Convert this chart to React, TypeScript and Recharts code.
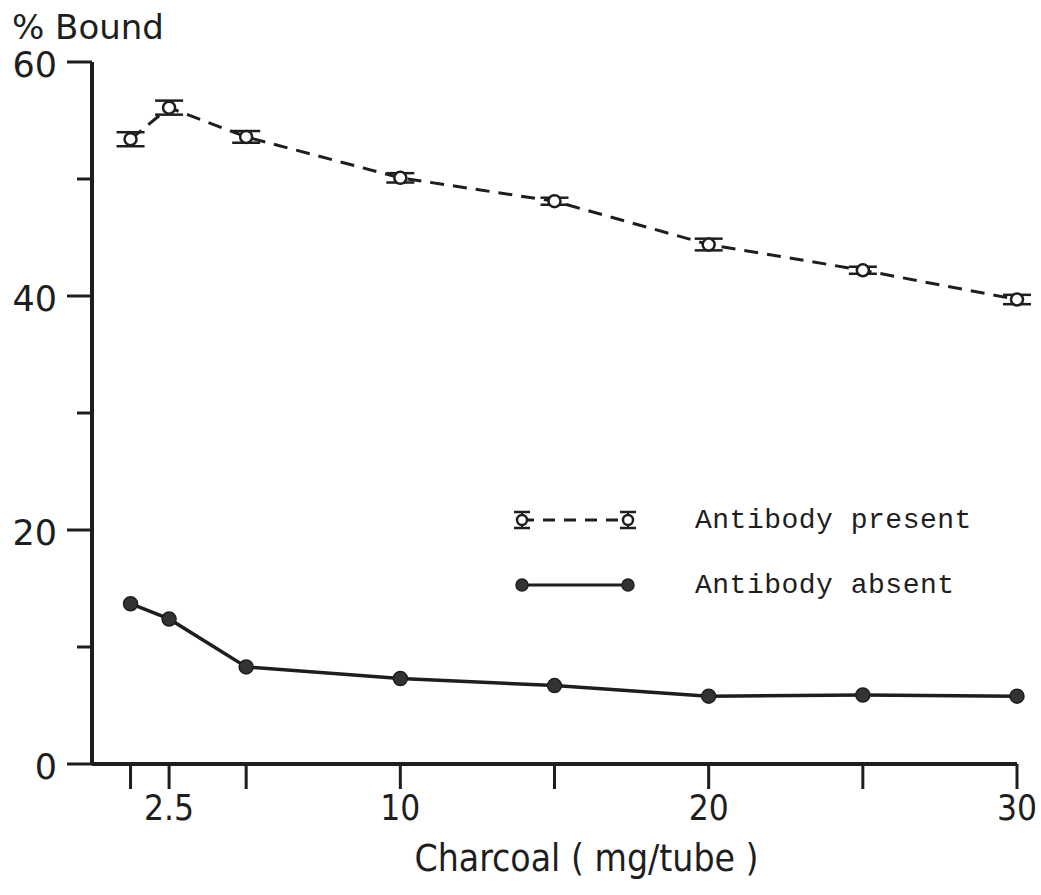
import React from "react";
import { LineChart, Line, XAxis, YAxis, ErrorBar } from "recharts";

// charcoal amount (mg/tube)
const charcoal = [1.25, 2.5, 5, 10, 15, 20, 25, 30];
// % bound, antibody present
const presentValues = [53.4, 56.1, 53.6, 50.1, 48.1, 44.4, 42.2, 39.7];
const presentErrors = [0.6, 0.6, 0.5, 0.4, 0.3, 0.5, 0.3, 0.4];
// % bound, antibody absent
const absentValues = [13.7, 12.4, 8.3, 7.3, 6.7, 5.8, 5.9, 5.8];

const xTicks = [1.25, 2.5, 5, 10, 15, 20, 25, 30];
const xTickLabels = [2.5, 10, 20, 30];
const yTicks = [0, 10, 20, 30, 40, 50, 60];
const yTickLabels = [0, 20, 40, 60];

const data = charcoal.map((x, i) => ({
  x,
  present: presentValues[i],
  presentErr: presentErrors[i],
  absent: absentValues[i],
}));

const INK = "#1e1e1e";
const AXIS_FONT = "'DejaVu Sans', 'Noto Sans', sans-serif";
const NARROW_FONT = "'DejaVu Sans Condensed', 'Liberation Sans Narrow', 'Roboto', sans-serif";
const MONO_FONT = "'Liberation Mono', 'DejaVu Sans Mono', monospace";

const XTick: React.FC<any> = ({ x, y, payload }) => {
  const labelled = xTickLabels.includes(payload.value);
  return (
    <g>
      <line x1={x} y1={y} x2={x} y2={y + 25} stroke={INK} strokeWidth={3} />
      {labelled && (
        <text
          x={x}
          y={y + 56}
          textAnchor="middle"
          fill={INK}
          fontSize={35}
          fontFamily={NARROW_FONT}
        >
          {payload.value}
        </text>
      )}
    </g>
  );
};

const YTick: React.FC<any> = ({ x, y, payload }) => {
  const labelled = yTickLabels.includes(payload.value);
  return (
    <g>
      <line
        x1={x - (labelled ? 25 : 15)}
        y1={y}
        x2={x}
        y2={y}
        stroke={INK}
        strokeWidth={3}
      />
      {labelled && (
        <text
          x={x - 35}
          y={y + 15}
          textAnchor="end"
          fill={INK}
          fontSize={35}
          fontFamily={AXIS_FONT}
        >
          {payload.value}
        </text>
      )}
    </g>
  );
};

const OpenDot: React.FC<any> = ({ cx, cy }) => (
  <circle cx={cx} cy={cy} r={6} fill="#fff" stroke={INK} strokeWidth={2.5} />
);

const FilledDot: React.FC<any> = ({ cx, cy }) => (
  <circle cx={cx} cy={cy} r={7} fill="#333" stroke={INK} strokeWidth={1.5} />
);

const LegendOverlay = () => (
  <svg
    width={1041}
    height={895}
    style={{ position: "absolute", left: 0, top: 0, pointerEvents: "none" }}
  >
    <text x={12} y={39} fontSize={34} fill={INK} fontFamily={AXIS_FONT}>
      % Bound
    </text>
    {/* antibody present */}
    <line x1={522} y1={520} x2={628} y2={520} stroke={INK} strokeWidth={3} strokeDasharray="12 9" />
    {[522, 628].map((cx) => (
      <g key={cx}>
        <line x1={cx - 8} y1={512} x2={cx + 8} y2={512} stroke={INK} strokeWidth={2.5} />
        <line x1={cx - 8} y1={528} x2={cx + 8} y2={528} stroke={INK} strokeWidth={2.5} />
        <line x1={cx} y1={512} x2={cx} y2={528} stroke={INK} strokeWidth={2} />
        <circle cx={cx} cy={520} r={5} fill="#fff" stroke={INK} strokeWidth={2.5} />
      </g>
    ))}
    <text x={695} y={528} fontSize={28} letterSpacing={0.5} fill={INK} fontFamily={MONO_FONT}>
      Antibody present
    </text>
    {/* antibody absent */}
    <line x1={522} y1={585} x2={628} y2={585} stroke={INK} strokeWidth={3} />
    {[522, 628].map((cx) => (
      <circle key={cx} cx={cx} cy={585} r={6} fill="#333" stroke={INK} strokeWidth={1.5} />
    ))}
    <text x={695} y={593} fontSize={28} letterSpacing={0.5} fill={INK} fontFamily={MONO_FONT}>
      Antibody absent
    </text>
  </svg>
);

export default function App() {
  return (
    <div
      style={{
        position: "absolute",
        left: 0,
        top: 0,
        width: 1041,
        height: 895,
        background: "#fff",
      }}
    >
      <LineChart
        width={1041}
        height={895}
        data={data}
        margin={{ top: 62, right: 24, left: 0, bottom: 0 }}
      >
        <XAxis
          dataKey="x"
          type="number"
          domain={[0, 30]}
          ticks={xTicks}
          interval={0}
          tick={<XTick />}
          tickLine={false}
          tickSize={0}
          tickMargin={0}
          axisLine={{ stroke: INK, strokeWidth: 4 }}
          height={131}
          label={{
            value: "Charcoal ( mg/tube )",
            position: "insideBottom",
            offset: 24,
            dx: 32,
            fontSize: 37,
            fill: INK,
            fontFamily: NARROW_FONT,
          }}
        />
        <YAxis
          type="number"
          domain={[0, 60]}
          ticks={yTicks}
          interval={0}
          tick={<YTick />}
          tickLine={false}
          tickSize={0}
          tickMargin={0}
          axisLine={{ stroke: INK, strokeWidth: 4 }}
          width={92}
        />
        <Line
          dataKey="present"
          stroke={INK}
          strokeWidth={3}
          strokeDasharray="14 9"
          dot={<OpenDot />}
          activeDot={false}
          isAnimationActive={false}
        >
          <ErrorBar
            dataKey="presentErr"
            direction="y"
            width={14}
            stroke={INK}
            strokeWidth={2.5}
            isAnimationActive={false}
          />
        </Line>
        <Line
          dataKey="absent"
          stroke={INK}
          strokeWidth={3.5}
          dot={<FilledDot />}
          activeDot={false}
          isAnimationActive={false}
        />
      </LineChart>
      <LegendOverlay />
    </div>
  );
}
